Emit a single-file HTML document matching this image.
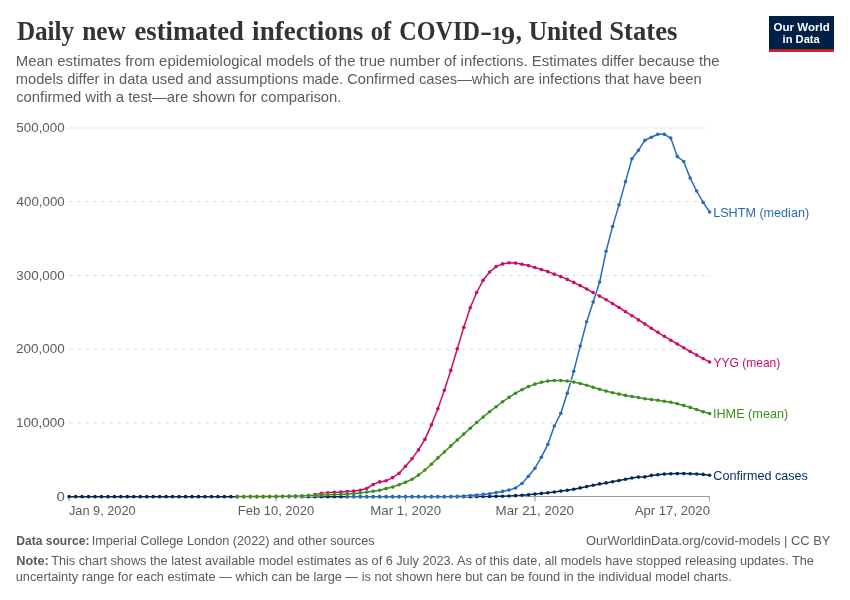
<!DOCTYPE html>
<html lang="en">
<head>
<meta charset="utf-8">
<title>Daily new estimated infections of COVID-19, United States</title>
<style>
html,body{margin:0;padding:0;background:#fff;}
body{width:850px;height:600px;overflow:hidden;}
svg{display:block;}
text{font-family:"Liberation Sans",sans-serif;fill:#5b5b5b;}
.title{font-family:"Liberation Serif",serif;font-weight:bold;font-size:26.5px;fill:#333;}
.d1{font-size:18.6px;}
.d9{font-size:25.2px;}
.sub{font-size:15px;}
.t13{font-size:13px;}
.b{font-weight:bold;}
.logo{font-size:11px;font-weight:bold;fill:#fff;}
</style>
</head>
<body>
<svg width="850" height="600" viewBox="0 0 850 600">
<rect width="850" height="600" fill="#fff"/>
<text id="tw1" x="16.89" y="39.50" textLength="57.32" lengthAdjust="spacingAndGlyphs" class="title">Daily </text>
<text id="tw2" x="82.24" y="39.50" textLength="43.62" lengthAdjust="spacingAndGlyphs" class="title">new </text>
<text id="tw3" x="134.49" y="39.50" textLength="109.32" lengthAdjust="spacingAndGlyphs" class="title">estimated </text>
<text id="tw4" x="252.14" y="39.50" textLength="111.27" lengthAdjust="spacingAndGlyphs" class="title">infections </text>
<text id="tw5" x="370.87" y="39.50" textLength="20.37" lengthAdjust="spacingAndGlyphs" class="title">of </text>
<text id="tw6" x="399.31" y="39.50" textLength="80.58" lengthAdjust="spacingAndGlyphs" class="title">COVID</text>
<text id="tw6a" x="479.95" y="39.50" textLength="12.13" lengthAdjust="spacingAndGlyphs" class="title">-</text>
<text id="tw6b" x="491.06" y="39.60" textLength="11.15" lengthAdjust="spacingAndGlyphs" class="title d1">1</text>
<text id="tw6c" x="501.12" y="43.70" textLength="14.01" lengthAdjust="spacingAndGlyphs" class="title d9">9</text>
<text id="tw6d" x="515.68" y="39.50" textLength="6.09" lengthAdjust="spacingAndGlyphs" class="title">, </text>
<text id="tw7" x="528.74" y="39.50" textLength="73.57" lengthAdjust="spacingAndGlyphs" class="title">United </text>
<text id="tw8" x="609.27" y="39.50" textLength="68.21" lengthAdjust="spacingAndGlyphs" class="title">States</text>
<text id="sub1" x="15.85" y="66.40" textLength="703.76" lengthAdjust="spacingAndGlyphs" class="sub">Mean estimates from epidemiological models of the true number of infections. Estimates differ because the </text>
<text id="sub2" x="15.85" y="84.40" textLength="685.81" lengthAdjust="spacingAndGlyphs" class="sub">models differ in data used and assumptions made. Confirmed cases—which are infections that have been </text>
<text id="sub3" x="16.15" y="102.20" textLength="325.31" lengthAdjust="spacingAndGlyphs" class="sub">confirmed with a test—are shown for comparison.</text>
<g>
<rect x="769" y="16" width="65" height="36" fill="#002147"/>
<rect x="769" y="49.2" width="65" height="2.8" fill="#CE261E"/>
<text id="logo1" x="773.54" y="30.50" textLength="56.22" lengthAdjust="spacingAndGlyphs" class="logo">Our World </text>
<text id="logo2" x="782.58" y="42.50" textLength="37.22" lengthAdjust="spacingAndGlyphs" class="logo">in Data</text>
</g>
<g stroke="#ddd" stroke-width="1" stroke-dasharray="4,4" fill="none"><line x1="69.1" x2="709.6" y1="128.0" y2="128.0"/><line x1="69.1" x2="709.6" y1="201.73" y2="201.73"/><line x1="69.1" x2="709.6" y1="275.46" y2="275.46"/><line x1="69.1" x2="709.6" y1="349.19" y2="349.19"/><line x1="69.1" x2="709.6" y1="422.92" y2="422.92"/></g>
<g stroke="#999" stroke-width="1" fill="none"><line x1="69.1" x2="709.6" y1="496.5" y2="496.5"/><line x1="69.1" x2="69.1" y1="496.5" y2="501.34999999999997"/><line x1="276.13" x2="276.13" y1="496.5" y2="501.34999999999997"/><line x1="405.52" x2="405.52" y1="496.5" y2="501.34999999999997"/><line x1="534.92" x2="534.92" y1="496.5" y2="501.34999999999997"/><line x1="709.3" x2="709.3" y1="496.5" y2="501.34999999999997"/></g>
<text id="y5" x="16.33" y="132.30" textLength="48.38" lengthAdjust="spacingAndGlyphs" class="t13">500,000</text><text id="y4" x="16.60" y="206.03" textLength="48.11" lengthAdjust="spacingAndGlyphs" class="t13">400,000</text><text id="y3" x="16.34" y="279.76" textLength="48.38" lengthAdjust="spacingAndGlyphs" class="t13">300,000</text><text id="y2" x="16.08" y="353.49" textLength="48.64" lengthAdjust="spacingAndGlyphs" class="t13">200,000</text><text id="y1" x="15.97" y="427.22" textLength="48.77" lengthAdjust="spacingAndGlyphs" class="t13">100,000</text><text id="y0" x="56.51" y="500.95" textLength="8.33" lengthAdjust="spacingAndGlyphs" class="t13">0</text>
<text id="x0" x="68.90" y="514.70" textLength="66.81" lengthAdjust="spacingAndGlyphs" class="t13">Jan 9, 2020</text><text id="x1" x="237.78" y="514.70" textLength="76.45" lengthAdjust="spacingAndGlyphs" class="t13">Feb 10, 2020</text><text id="x2" x="370.32" y="514.70" textLength="70.69" lengthAdjust="spacingAndGlyphs" class="t13">Mar 1, 2020</text><text id="x3" x="495.58" y="514.70" textLength="78.44" lengthAdjust="spacingAndGlyphs" class="t13">Mar 21, 2020</text><text id="x4" x="634.65" y="514.70" textLength="75.36" lengthAdjust="spacingAndGlyphs" class="t13">Apr 17, 2020</text>
<g fill="#00295B">
<polyline points="69.1,496.65 75.57,496.65 82.04,496.65 88.51,496.65 94.98,496.65 101.45,496.65 107.92,496.65 114.39,496.65 120.86,496.65 127.33,496.65 133.8,496.65 140.27,496.65 146.74,496.65 153.21,496.65 159.68,496.65 166.15,496.65 172.62,496.65 179.08,496.65 185.55,496.65 192.02,496.65 198.49,496.65 204.96,496.65 211.43,496.65 217.9,496.65 224.37,496.65 230.84,496.65 237.31,496.65 243.78,496.65 250.25,496.65 256.72,496.65 263.19,496.65 269.66,496.65 276.13,496.65 282.6,496.65 289.07,496.65 295.54,496.65 302.01,496.65 308.48,496.65 314.95,496.65 321.42,496.65 327.89,496.65 334.36,496.65 340.83,496.65 347.3,496.65 353.77,496.65 360.24,496.65 366.71,496.65 373.18,496.65 379.65,496.65 386.12,496.65 392.58,496.65 399.05,496.65 405.52,496.65 411.99,496.65 418.46,496.65 424.93,496.65 431.4,496.65 437.87,496.65 444.34,496.65 450.81,496.65 457.28,496.65 463.75,496.65 470.22,496.65 476.69,496.60 483.16,496.55 489.63,496.45 496.1,496.35 502.57,496.20 509.04,495.95 515.51,495.65 521.98,495.25 528.45,494.80 534.92,494.10 541.39,493.40 547.86,492.70 554.33,492.00 560.8,491.10 567.27,490.20 573.74,489.20 580.21,487.90 586.68,486.60 593.15,485.30 599.62,483.90 606.08,482.90 612.55,481.80 619.02,480.50 625.49,479.20 631.96,478.00 638.43,477.10 644.9,476.90 651.37,475.40 657.84,474.70 664.31,474.10 670.78,473.70 677.25,473.60 683.72,473.60 690.19,473.70 696.66,474.00 703.13,474.40 709.6,475.30" fill="none" stroke="#fff" stroke-width="2.5" stroke-linejoin="round" stroke-linecap="butt"/>
<polyline points="69.1,496.65 75.57,496.65 82.04,496.65 88.51,496.65 94.98,496.65 101.45,496.65 107.92,496.65 114.39,496.65 120.86,496.65 127.33,496.65 133.8,496.65 140.27,496.65 146.74,496.65 153.21,496.65 159.68,496.65 166.15,496.65 172.62,496.65 179.08,496.65 185.55,496.65 192.02,496.65 198.49,496.65 204.96,496.65 211.43,496.65 217.9,496.65 224.37,496.65 230.84,496.65 237.31,496.65 243.78,496.65 250.25,496.65 256.72,496.65 263.19,496.65 269.66,496.65 276.13,496.65 282.6,496.65 289.07,496.65 295.54,496.65 302.01,496.65 308.48,496.65 314.95,496.65 321.42,496.65 327.89,496.65 334.36,496.65 340.83,496.65 347.3,496.65 353.77,496.65 360.24,496.65 366.71,496.65 373.18,496.65 379.65,496.65 386.12,496.65 392.58,496.65 399.05,496.65 405.52,496.65 411.99,496.65 418.46,496.65 424.93,496.65 431.4,496.65 437.87,496.65 444.34,496.65 450.81,496.65 457.28,496.65 463.75,496.65 470.22,496.65 476.69,496.60 483.16,496.55 489.63,496.45 496.1,496.35 502.57,496.20 509.04,495.95 515.51,495.65 521.98,495.25 528.45,494.80 534.92,494.10 541.39,493.40 547.86,492.70 554.33,492.00 560.8,491.10 567.27,490.20 573.74,489.20 580.21,487.90 586.68,486.60 593.15,485.30 599.62,483.90 606.08,482.90 612.55,481.80 619.02,480.50 625.49,479.20 631.96,478.00 638.43,477.10 644.9,476.90 651.37,475.40 657.84,474.70 664.31,474.10 670.78,473.70 677.25,473.60 683.72,473.60 690.19,473.70 696.66,474.00 703.13,474.40 709.6,475.30" fill="none" stroke="#00295B" stroke-width="1.5" stroke-linejoin="round" stroke-linecap="butt"/>
<circle cx="69.1" cy="496.65" r="1.8"/>
<circle cx="75.57" cy="496.65" r="1.8"/>
<circle cx="82.04" cy="496.65" r="1.8"/>
<circle cx="88.51" cy="496.65" r="1.8"/>
<circle cx="94.98" cy="496.65" r="1.8"/>
<circle cx="101.45" cy="496.65" r="1.8"/>
<circle cx="107.92" cy="496.65" r="1.8"/>
<circle cx="114.39" cy="496.65" r="1.8"/>
<circle cx="120.86" cy="496.65" r="1.8"/>
<circle cx="127.33" cy="496.65" r="1.8"/>
<circle cx="133.8" cy="496.65" r="1.8"/>
<circle cx="140.27" cy="496.65" r="1.8"/>
<circle cx="146.74" cy="496.65" r="1.8"/>
<circle cx="153.21" cy="496.65" r="1.8"/>
<circle cx="159.68" cy="496.65" r="1.8"/>
<circle cx="166.15" cy="496.65" r="1.8"/>
<circle cx="172.62" cy="496.65" r="1.8"/>
<circle cx="179.08" cy="496.65" r="1.8"/>
<circle cx="185.55" cy="496.65" r="1.8"/>
<circle cx="192.02" cy="496.65" r="1.8"/>
<circle cx="198.49" cy="496.65" r="1.8"/>
<circle cx="204.96" cy="496.65" r="1.8"/>
<circle cx="211.43" cy="496.65" r="1.8"/>
<circle cx="217.9" cy="496.65" r="1.8"/>
<circle cx="224.37" cy="496.65" r="1.8"/>
<circle cx="230.84" cy="496.65" r="1.8"/>
<circle cx="237.31" cy="496.65" r="1.8"/>
<circle cx="243.78" cy="496.65" r="1.8"/>
<circle cx="250.25" cy="496.65" r="1.8"/>
<circle cx="256.72" cy="496.65" r="1.8"/>
<circle cx="263.19" cy="496.65" r="1.8"/>
<circle cx="269.66" cy="496.65" r="1.8"/>
<circle cx="276.13" cy="496.65" r="1.8"/>
<circle cx="282.6" cy="496.65" r="1.8"/>
<circle cx="289.07" cy="496.65" r="1.8"/>
<circle cx="295.54" cy="496.65" r="1.8"/>
<circle cx="302.01" cy="496.65" r="1.8"/>
<circle cx="308.48" cy="496.65" r="1.8"/>
<circle cx="314.95" cy="496.65" r="1.8"/>
<circle cx="321.42" cy="496.65" r="1.8"/>
<circle cx="327.89" cy="496.65" r="1.8"/>
<circle cx="334.36" cy="496.65" r="1.8"/>
<circle cx="340.83" cy="496.65" r="1.8"/>
<circle cx="347.3" cy="496.65" r="1.8"/>
<circle cx="353.77" cy="496.65" r="1.8"/>
<circle cx="360.24" cy="496.65" r="1.8"/>
<circle cx="366.71" cy="496.65" r="1.8"/>
<circle cx="373.18" cy="496.65" r="1.8"/>
<circle cx="379.65" cy="496.65" r="1.8"/>
<circle cx="386.12" cy="496.65" r="1.8"/>
<circle cx="392.58" cy="496.65" r="1.8"/>
<circle cx="399.05" cy="496.65" r="1.8"/>
<circle cx="405.52" cy="496.65" r="1.8"/>
<circle cx="411.99" cy="496.65" r="1.8"/>
<circle cx="418.46" cy="496.65" r="1.8"/>
<circle cx="424.93" cy="496.65" r="1.8"/>
<circle cx="431.4" cy="496.65" r="1.8"/>
<circle cx="437.87" cy="496.65" r="1.8"/>
<circle cx="444.34" cy="496.65" r="1.8"/>
<circle cx="450.81" cy="496.65" r="1.8"/>
<circle cx="457.28" cy="496.65" r="1.8"/>
<circle cx="463.75" cy="496.65" r="1.8"/>
<circle cx="470.22" cy="496.65" r="1.8"/>
<circle cx="476.69" cy="496.60" r="1.8"/>
<circle cx="483.16" cy="496.55" r="1.8"/>
<circle cx="489.63" cy="496.45" r="1.8"/>
<circle cx="496.1" cy="496.35" r="1.8"/>
<circle cx="502.57" cy="496.20" r="1.8"/>
<circle cx="509.04" cy="495.95" r="1.8"/>
<circle cx="515.51" cy="495.65" r="1.8"/>
<circle cx="521.98" cy="495.25" r="1.8"/>
<circle cx="528.45" cy="494.80" r="1.8"/>
<circle cx="534.92" cy="494.10" r="1.8"/>
<circle cx="541.39" cy="493.40" r="1.8"/>
<circle cx="547.86" cy="492.70" r="1.8"/>
<circle cx="554.33" cy="492.00" r="1.8"/>
<circle cx="560.8" cy="491.10" r="1.8"/>
<circle cx="567.27" cy="490.20" r="1.8"/>
<circle cx="573.74" cy="489.20" r="1.8"/>
<circle cx="580.21" cy="487.90" r="1.8"/>
<circle cx="586.68" cy="486.60" r="1.8"/>
<circle cx="593.15" cy="485.30" r="1.8"/>
<circle cx="599.62" cy="483.90" r="1.8"/>
<circle cx="606.08" cy="482.90" r="1.8"/>
<circle cx="612.55" cy="481.80" r="1.8"/>
<circle cx="619.02" cy="480.50" r="1.8"/>
<circle cx="625.49" cy="479.20" r="1.8"/>
<circle cx="631.96" cy="478.00" r="1.8"/>
<circle cx="638.43" cy="477.10" r="1.8"/>
<circle cx="644.9" cy="476.90" r="1.8"/>
<circle cx="651.37" cy="475.40" r="1.8"/>
<circle cx="657.84" cy="474.70" r="1.8"/>
<circle cx="664.31" cy="474.10" r="1.8"/>
<circle cx="670.78" cy="473.70" r="1.8"/>
<circle cx="677.25" cy="473.60" r="1.8"/>
<circle cx="683.72" cy="473.60" r="1.8"/>
<circle cx="690.19" cy="473.70" r="1.8"/>
<circle cx="696.66" cy="474.00" r="1.8"/>
<circle cx="703.13" cy="474.40" r="1.8"/>
<circle cx="709.6" cy="475.30" r="1.8"/>
</g>
<g fill="#CF0A66">
<polyline points="237.31,496.65 243.78,496.65 250.25,496.65 256.72,496.65 263.19,496.60 269.66,496.60 276.13,496.55 282.6,496.50 289.07,496.40 295.54,496.30 302.01,496.00 308.48,495.40 314.95,494.50 321.42,493.20 327.89,492.70 334.36,492.20 340.83,492.00 347.3,491.60 353.77,491.10 360.24,490.20 366.71,488.50 373.18,484.50 379.65,481.90 386.12,480.80 392.58,477.60 399.05,473.25 405.52,466.20 411.99,458.70 418.46,449.90 424.93,439.40 431.4,424.90 437.87,408.70 444.34,390.20 450.81,370.40 457.28,348.80 463.75,327.40 470.22,307.80 476.69,292.50 483.16,280.20 489.63,272.00 496.1,266.60 502.57,263.90 509.04,262.80 515.51,263.10 521.98,264.20 528.45,265.60 534.92,267.50 541.39,269.50 547.86,271.65 554.33,274.15 560.8,276.60 567.27,279.40 573.74,282.40 580.21,285.60 586.68,289.00 593.15,292.60 599.62,296.10 606.08,299.70 612.55,303.60 619.02,307.50 625.49,311.70 631.96,315.70 638.43,319.90 644.9,324.00 651.37,328.20 657.84,332.30 664.31,336.30 670.78,340.20 677.25,344.00 683.72,347.70 690.19,351.50 696.66,355.10 703.13,358.60 709.6,362.00" fill="none" stroke="#fff" stroke-width="2.5" stroke-linejoin="round" stroke-linecap="butt"/>
<polyline points="237.31,496.65 243.78,496.65 250.25,496.65 256.72,496.65 263.19,496.60 269.66,496.60 276.13,496.55 282.6,496.50 289.07,496.40 295.54,496.30 302.01,496.00 308.48,495.40 314.95,494.50 321.42,493.20 327.89,492.70 334.36,492.20 340.83,492.00 347.3,491.60 353.77,491.10 360.24,490.20 366.71,488.50 373.18,484.50 379.65,481.90 386.12,480.80 392.58,477.60 399.05,473.25 405.52,466.20 411.99,458.70 418.46,449.90 424.93,439.40 431.4,424.90 437.87,408.70 444.34,390.20 450.81,370.40 457.28,348.80 463.75,327.40 470.22,307.80 476.69,292.50 483.16,280.20 489.63,272.00 496.1,266.60 502.57,263.90 509.04,262.80 515.51,263.10 521.98,264.20 528.45,265.60 534.92,267.50 541.39,269.50 547.86,271.65 554.33,274.15 560.8,276.60 567.27,279.40 573.74,282.40 580.21,285.60 586.68,289.00 593.15,292.60 599.62,296.10 606.08,299.70 612.55,303.60 619.02,307.50 625.49,311.70 631.96,315.70 638.43,319.90 644.9,324.00 651.37,328.20 657.84,332.30 664.31,336.30 670.78,340.20 677.25,344.00 683.72,347.70 690.19,351.50 696.66,355.10 703.13,358.60 709.6,362.00" fill="none" stroke="#CF0A66" stroke-width="1.5" stroke-linejoin="round" stroke-linecap="butt"/>
<circle cx="237.31" cy="496.65" r="1.8"/>
<circle cx="243.78" cy="496.65" r="1.8"/>
<circle cx="250.25" cy="496.65" r="1.8"/>
<circle cx="256.72" cy="496.65" r="1.8"/>
<circle cx="263.19" cy="496.60" r="1.8"/>
<circle cx="269.66" cy="496.60" r="1.8"/>
<circle cx="276.13" cy="496.55" r="1.8"/>
<circle cx="282.6" cy="496.50" r="1.8"/>
<circle cx="289.07" cy="496.40" r="1.8"/>
<circle cx="295.54" cy="496.30" r="1.8"/>
<circle cx="302.01" cy="496.00" r="1.8"/>
<circle cx="308.48" cy="495.40" r="1.8"/>
<circle cx="314.95" cy="494.50" r="1.8"/>
<circle cx="321.42" cy="493.20" r="1.8"/>
<circle cx="327.89" cy="492.70" r="1.8"/>
<circle cx="334.36" cy="492.20" r="1.8"/>
<circle cx="340.83" cy="492.00" r="1.8"/>
<circle cx="347.3" cy="491.60" r="1.8"/>
<circle cx="353.77" cy="491.10" r="1.8"/>
<circle cx="360.24" cy="490.20" r="1.8"/>
<circle cx="366.71" cy="488.50" r="1.8"/>
<circle cx="373.18" cy="484.50" r="1.8"/>
<circle cx="379.65" cy="481.90" r="1.8"/>
<circle cx="386.12" cy="480.80" r="1.8"/>
<circle cx="392.58" cy="477.60" r="1.8"/>
<circle cx="399.05" cy="473.25" r="1.8"/>
<circle cx="405.52" cy="466.20" r="1.8"/>
<circle cx="411.99" cy="458.70" r="1.8"/>
<circle cx="418.46" cy="449.90" r="1.8"/>
<circle cx="424.93" cy="439.40" r="1.8"/>
<circle cx="431.4" cy="424.90" r="1.8"/>
<circle cx="437.87" cy="408.70" r="1.8"/>
<circle cx="444.34" cy="390.20" r="1.8"/>
<circle cx="450.81" cy="370.40" r="1.8"/>
<circle cx="457.28" cy="348.80" r="1.8"/>
<circle cx="463.75" cy="327.40" r="1.8"/>
<circle cx="470.22" cy="307.80" r="1.8"/>
<circle cx="476.69" cy="292.50" r="1.8"/>
<circle cx="483.16" cy="280.20" r="1.8"/>
<circle cx="489.63" cy="272.00" r="1.8"/>
<circle cx="496.1" cy="266.60" r="1.8"/>
<circle cx="502.57" cy="263.90" r="1.8"/>
<circle cx="509.04" cy="262.80" r="1.8"/>
<circle cx="515.51" cy="263.10" r="1.8"/>
<circle cx="521.98" cy="264.20" r="1.8"/>
<circle cx="528.45" cy="265.60" r="1.8"/>
<circle cx="534.92" cy="267.50" r="1.8"/>
<circle cx="541.39" cy="269.50" r="1.8"/>
<circle cx="547.86" cy="271.65" r="1.8"/>
<circle cx="554.33" cy="274.15" r="1.8"/>
<circle cx="560.8" cy="276.60" r="1.8"/>
<circle cx="567.27" cy="279.40" r="1.8"/>
<circle cx="573.74" cy="282.40" r="1.8"/>
<circle cx="580.21" cy="285.60" r="1.8"/>
<circle cx="586.68" cy="289.00" r="1.8"/>
<circle cx="593.15" cy="292.60" r="1.8"/>
<circle cx="599.62" cy="296.10" r="1.8"/>
<circle cx="606.08" cy="299.70" r="1.8"/>
<circle cx="612.55" cy="303.60" r="1.8"/>
<circle cx="619.02" cy="307.50" r="1.8"/>
<circle cx="625.49" cy="311.70" r="1.8"/>
<circle cx="631.96" cy="315.70" r="1.8"/>
<circle cx="638.43" cy="319.90" r="1.8"/>
<circle cx="644.9" cy="324.00" r="1.8"/>
<circle cx="651.37" cy="328.20" r="1.8"/>
<circle cx="657.84" cy="332.30" r="1.8"/>
<circle cx="664.31" cy="336.30" r="1.8"/>
<circle cx="670.78" cy="340.20" r="1.8"/>
<circle cx="677.25" cy="344.00" r="1.8"/>
<circle cx="683.72" cy="347.70" r="1.8"/>
<circle cx="690.19" cy="351.50" r="1.8"/>
<circle cx="696.66" cy="355.10" r="1.8"/>
<circle cx="703.13" cy="358.60" r="1.8"/>
<circle cx="709.6" cy="362.00" r="1.8"/>
</g>
<g fill="#286BBB">
<polyline points="347.3,496.65 353.77,496.65 360.24,496.65 366.71,496.65 373.18,496.65 379.65,496.65 386.12,496.65 392.58,496.65 399.05,496.65 405.52,496.65 411.99,496.65 418.46,496.65 424.93,496.65 431.4,496.65 437.87,496.65 444.34,496.65 450.81,496.60 457.28,496.40 463.75,496.10 470.22,495.50 476.69,494.95 483.16,494.40 489.63,493.70 496.1,492.50 502.57,491.40 509.04,490.10 515.51,488.00 521.98,483.50 528.45,476.20 534.92,468.20 541.39,457.20 547.86,444.35 554.33,426.00 560.8,413.35 567.27,393.35 573.74,371.20 580.21,346.10 586.68,321.80 593.15,302.10 599.62,282.00 606.08,251.20 612.55,226.60 619.02,204.90 625.49,181.60 631.96,158.70 638.43,150.30 644.9,140.30 651.37,137.30 657.84,134.30 664.31,134.30 670.78,138.10 677.25,156.40 683.72,161.50 690.19,178.10 696.66,191.00 703.13,202.40 709.6,212.00" fill="none" stroke="#fff" stroke-width="2.5" stroke-linejoin="round" stroke-linecap="butt"/>
<polyline points="347.3,496.65 353.77,496.65 360.24,496.65 366.71,496.65 373.18,496.65 379.65,496.65 386.12,496.65 392.58,496.65 399.05,496.65 405.52,496.65 411.99,496.65 418.46,496.65 424.93,496.65 431.4,496.65 437.87,496.65 444.34,496.65 450.81,496.60 457.28,496.40 463.75,496.10 470.22,495.50 476.69,494.95 483.16,494.40 489.63,493.70 496.1,492.50 502.57,491.40 509.04,490.10 515.51,488.00 521.98,483.50 528.45,476.20 534.92,468.20 541.39,457.20 547.86,444.35 554.33,426.00 560.8,413.35 567.27,393.35 573.74,371.20 580.21,346.10 586.68,321.80 593.15,302.10 599.62,282.00 606.08,251.20 612.55,226.60 619.02,204.90 625.49,181.60 631.96,158.70 638.43,150.30 644.9,140.30 651.37,137.30 657.84,134.30 664.31,134.30 670.78,138.10 677.25,156.40 683.72,161.50 690.19,178.10 696.66,191.00 703.13,202.40 709.6,212.00" fill="none" stroke="#286BBB" stroke-width="1.5" stroke-linejoin="round" stroke-linecap="butt"/>
<circle cx="347.3" cy="496.65" r="1.8"/>
<circle cx="353.77" cy="496.65" r="1.8"/>
<circle cx="360.24" cy="496.65" r="1.8"/>
<circle cx="366.71" cy="496.65" r="1.8"/>
<circle cx="373.18" cy="496.65" r="1.8"/>
<circle cx="379.65" cy="496.65" r="1.8"/>
<circle cx="386.12" cy="496.65" r="1.8"/>
<circle cx="392.58" cy="496.65" r="1.8"/>
<circle cx="399.05" cy="496.65" r="1.8"/>
<circle cx="405.52" cy="496.65" r="1.8"/>
<circle cx="411.99" cy="496.65" r="1.8"/>
<circle cx="418.46" cy="496.65" r="1.8"/>
<circle cx="424.93" cy="496.65" r="1.8"/>
<circle cx="431.4" cy="496.65" r="1.8"/>
<circle cx="437.87" cy="496.65" r="1.8"/>
<circle cx="444.34" cy="496.65" r="1.8"/>
<circle cx="450.81" cy="496.60" r="1.8"/>
<circle cx="457.28" cy="496.40" r="1.8"/>
<circle cx="463.75" cy="496.10" r="1.8"/>
<circle cx="470.22" cy="495.50" r="1.8"/>
<circle cx="476.69" cy="494.95" r="1.8"/>
<circle cx="483.16" cy="494.40" r="1.8"/>
<circle cx="489.63" cy="493.70" r="1.8"/>
<circle cx="496.1" cy="492.50" r="1.8"/>
<circle cx="502.57" cy="491.40" r="1.8"/>
<circle cx="509.04" cy="490.10" r="1.8"/>
<circle cx="515.51" cy="488.00" r="1.8"/>
<circle cx="521.98" cy="483.50" r="1.8"/>
<circle cx="528.45" cy="476.20" r="1.8"/>
<circle cx="534.92" cy="468.20" r="1.8"/>
<circle cx="541.39" cy="457.20" r="1.8"/>
<circle cx="547.86" cy="444.35" r="1.8"/>
<circle cx="554.33" cy="426.00" r="1.8"/>
<circle cx="560.8" cy="413.35" r="1.8"/>
<circle cx="567.27" cy="393.35" r="1.8"/>
<circle cx="573.74" cy="371.20" r="1.8"/>
<circle cx="580.21" cy="346.10" r="1.8"/>
<circle cx="586.68" cy="321.80" r="1.8"/>
<circle cx="593.15" cy="302.10" r="1.8"/>
<circle cx="599.62" cy="282.00" r="1.8"/>
<circle cx="606.08" cy="251.20" r="1.8"/>
<circle cx="612.55" cy="226.60" r="1.8"/>
<circle cx="619.02" cy="204.90" r="1.8"/>
<circle cx="625.49" cy="181.60" r="1.8"/>
<circle cx="631.96" cy="158.70" r="1.8"/>
<circle cx="638.43" cy="150.30" r="1.8"/>
<circle cx="644.9" cy="140.30" r="1.8"/>
<circle cx="651.37" cy="137.30" r="1.8"/>
<circle cx="657.84" cy="134.30" r="1.8"/>
<circle cx="664.31" cy="134.30" r="1.8"/>
<circle cx="670.78" cy="138.10" r="1.8"/>
<circle cx="677.25" cy="156.40" r="1.8"/>
<circle cx="683.72" cy="161.50" r="1.8"/>
<circle cx="690.19" cy="178.10" r="1.8"/>
<circle cx="696.66" cy="191.00" r="1.8"/>
<circle cx="703.13" cy="202.40" r="1.8"/>
<circle cx="709.6" cy="212.00" r="1.8"/>
</g>
<g fill="#3B8E1D">
<polyline points="237.31,496.60 243.78,496.60 250.25,496.55 256.72,496.50 263.19,496.50 269.66,496.45 276.13,496.40 282.6,496.30 289.07,496.20 295.54,496.05 302.01,495.90 308.48,495.60 314.95,495.30 321.42,495.10 327.89,494.80 334.36,494.60 340.83,494.40 347.3,494.00 353.77,493.50 360.24,492.90 366.71,492.10 373.18,491.20 379.65,490.20 386.12,488.60 392.58,487.10 399.05,484.75 405.52,482.20 411.99,479.30 418.46,475.10 424.93,470.00 431.4,464.30 437.87,457.90 444.34,452.00 450.81,445.90 457.28,440.00 463.75,434.10 470.22,428.30 476.69,422.50 483.16,417.00 489.63,411.70 496.1,406.75 502.57,401.75 509.04,397.40 515.51,393.20 521.98,389.70 528.45,386.60 534.92,384.15 541.39,382.20 547.86,381.10 554.33,380.50 560.8,380.50 567.27,381.10 573.74,382.10 580.21,383.50 586.68,385.30 593.15,387.30 599.62,389.30 606.08,391.10 612.55,392.70 619.02,394.10 625.49,395.40 631.96,396.50 638.43,397.55 644.9,398.80 651.37,399.60 657.84,400.30 664.31,401.20 670.78,402.30 677.25,403.70 683.72,405.40 690.19,407.40 696.66,409.50 703.13,411.70 709.6,413.50" fill="none" stroke="#fff" stroke-width="2.5" stroke-linejoin="round" stroke-linecap="butt"/>
<polyline points="237.31,496.60 243.78,496.60 250.25,496.55 256.72,496.50 263.19,496.50 269.66,496.45 276.13,496.40 282.6,496.30 289.07,496.20 295.54,496.05 302.01,495.90 308.48,495.60 314.95,495.30 321.42,495.10 327.89,494.80 334.36,494.60 340.83,494.40 347.3,494.00 353.77,493.50 360.24,492.90 366.71,492.10 373.18,491.20 379.65,490.20 386.12,488.60 392.58,487.10 399.05,484.75 405.52,482.20 411.99,479.30 418.46,475.10 424.93,470.00 431.4,464.30 437.87,457.90 444.34,452.00 450.81,445.90 457.28,440.00 463.75,434.10 470.22,428.30 476.69,422.50 483.16,417.00 489.63,411.70 496.1,406.75 502.57,401.75 509.04,397.40 515.51,393.20 521.98,389.70 528.45,386.60 534.92,384.15 541.39,382.20 547.86,381.10 554.33,380.50 560.8,380.50 567.27,381.10 573.74,382.10 580.21,383.50 586.68,385.30 593.15,387.30 599.62,389.30 606.08,391.10 612.55,392.70 619.02,394.10 625.49,395.40 631.96,396.50 638.43,397.55 644.9,398.80 651.37,399.60 657.84,400.30 664.31,401.20 670.78,402.30 677.25,403.70 683.72,405.40 690.19,407.40 696.66,409.50 703.13,411.70 709.6,413.50" fill="none" stroke="#3B8E1D" stroke-width="1.5" stroke-linejoin="round" stroke-linecap="butt"/>
<circle cx="237.31" cy="496.60" r="1.8"/>
<circle cx="243.78" cy="496.60" r="1.8"/>
<circle cx="250.25" cy="496.55" r="1.8"/>
<circle cx="256.72" cy="496.50" r="1.8"/>
<circle cx="263.19" cy="496.50" r="1.8"/>
<circle cx="269.66" cy="496.45" r="1.8"/>
<circle cx="276.13" cy="496.40" r="1.8"/>
<circle cx="282.6" cy="496.30" r="1.8"/>
<circle cx="289.07" cy="496.20" r="1.8"/>
<circle cx="295.54" cy="496.05" r="1.8"/>
<circle cx="302.01" cy="495.90" r="1.8"/>
<circle cx="308.48" cy="495.60" r="1.8"/>
<circle cx="314.95" cy="495.30" r="1.8"/>
<circle cx="321.42" cy="495.10" r="1.8"/>
<circle cx="327.89" cy="494.80" r="1.8"/>
<circle cx="334.36" cy="494.60" r="1.8"/>
<circle cx="340.83" cy="494.40" r="1.8"/>
<circle cx="347.3" cy="494.00" r="1.8"/>
<circle cx="353.77" cy="493.50" r="1.8"/>
<circle cx="360.24" cy="492.90" r="1.8"/>
<circle cx="366.71" cy="492.10" r="1.8"/>
<circle cx="373.18" cy="491.20" r="1.8"/>
<circle cx="379.65" cy="490.20" r="1.8"/>
<circle cx="386.12" cy="488.60" r="1.8"/>
<circle cx="392.58" cy="487.10" r="1.8"/>
<circle cx="399.05" cy="484.75" r="1.8"/>
<circle cx="405.52" cy="482.20" r="1.8"/>
<circle cx="411.99" cy="479.30" r="1.8"/>
<circle cx="418.46" cy="475.10" r="1.8"/>
<circle cx="424.93" cy="470.00" r="1.8"/>
<circle cx="431.4" cy="464.30" r="1.8"/>
<circle cx="437.87" cy="457.90" r="1.8"/>
<circle cx="444.34" cy="452.00" r="1.8"/>
<circle cx="450.81" cy="445.90" r="1.8"/>
<circle cx="457.28" cy="440.00" r="1.8"/>
<circle cx="463.75" cy="434.10" r="1.8"/>
<circle cx="470.22" cy="428.30" r="1.8"/>
<circle cx="476.69" cy="422.50" r="1.8"/>
<circle cx="483.16" cy="417.00" r="1.8"/>
<circle cx="489.63" cy="411.70" r="1.8"/>
<circle cx="496.1" cy="406.75" r="1.8"/>
<circle cx="502.57" cy="401.75" r="1.8"/>
<circle cx="509.04" cy="397.40" r="1.8"/>
<circle cx="515.51" cy="393.20" r="1.8"/>
<circle cx="521.98" cy="389.70" r="1.8"/>
<circle cx="528.45" cy="386.60" r="1.8"/>
<circle cx="534.92" cy="384.15" r="1.8"/>
<circle cx="541.39" cy="382.20" r="1.8"/>
<circle cx="547.86" cy="381.10" r="1.8"/>
<circle cx="554.33" cy="380.50" r="1.8"/>
<circle cx="560.8" cy="380.50" r="1.8"/>
<circle cx="567.27" cy="381.10" r="1.8"/>
<circle cx="573.74" cy="382.10" r="1.8"/>
<circle cx="580.21" cy="383.50" r="1.8"/>
<circle cx="586.68" cy="385.30" r="1.8"/>
<circle cx="593.15" cy="387.30" r="1.8"/>
<circle cx="599.62" cy="389.30" r="1.8"/>
<circle cx="606.08" cy="391.10" r="1.8"/>
<circle cx="612.55" cy="392.70" r="1.8"/>
<circle cx="619.02" cy="394.10" r="1.8"/>
<circle cx="625.49" cy="395.40" r="1.8"/>
<circle cx="631.96" cy="396.50" r="1.8"/>
<circle cx="638.43" cy="397.55" r="1.8"/>
<circle cx="644.9" cy="398.80" r="1.8"/>
<circle cx="651.37" cy="399.60" r="1.8"/>
<circle cx="657.84" cy="400.30" r="1.8"/>
<circle cx="664.31" cy="401.20" r="1.8"/>
<circle cx="670.78" cy="402.30" r="1.8"/>
<circle cx="677.25" cy="403.70" r="1.8"/>
<circle cx="683.72" cy="405.40" r="1.8"/>
<circle cx="690.19" cy="407.40" r="1.8"/>
<circle cx="696.66" cy="409.50" r="1.8"/>
<circle cx="703.13" cy="411.70" r="1.8"/>
<circle cx="709.6" cy="413.50" r="1.8"/>
</g>
<text id="l1" x="713.18" y="216.80" textLength="95.94" lengthAdjust="spacingAndGlyphs" class="t13" style="fill:#286BBB">LSHTM (median)</text>
<text id="l2" x="713.54" y="366.70" textLength="66.72" lengthAdjust="spacingAndGlyphs" class="t13" style="fill:#CF0A66">YYG (mean)</text>
<text id="l3" x="712.92" y="417.90" textLength="75.35" lengthAdjust="spacingAndGlyphs" class="t13" style="fill:#3B8E1D">IHME (mean)</text>
<text id="l4" x="713.29" y="480.10" textLength="94.56" lengthAdjust="spacingAndGlyphs" class="t13" style="fill:#00295B">Confirmed cases</text>
<text id="f1" x="16.23" y="545.30" textLength="73.20" lengthAdjust="spacingAndGlyphs" class="t13 b">Data source: </text>
<text id="f2" x="91.64" y="545.30" textLength="283.01" lengthAdjust="spacingAndGlyphs" class="t13">Imperial College London (2022) and other sources</text>
<text id="f3" x="586.00" y="545.30" textLength="244.45" lengthAdjust="spacingAndGlyphs" class="t13">OurWorldinData.org/covid-models | CC BY</text>
<text id="f4" x="16.20" y="565.30" textLength="32.56" lengthAdjust="spacingAndGlyphs" class="t13 b">Note: </text>
<text id="f5" x="51.20" y="565.30" textLength="762.70" lengthAdjust="spacingAndGlyphs" class="t13">This chart shows the latest available model estimates as of 6 July 2023. As of this date, all models have stopped releasing updates. The </text>
<text id="f6" x="15.75" y="580.60" textLength="715.95" lengthAdjust="spacingAndGlyphs" class="t13">uncertainty range for each estimate — which can be large — is not shown here but can be found in the individual model charts.</text>
</svg>
</body>
</html>
